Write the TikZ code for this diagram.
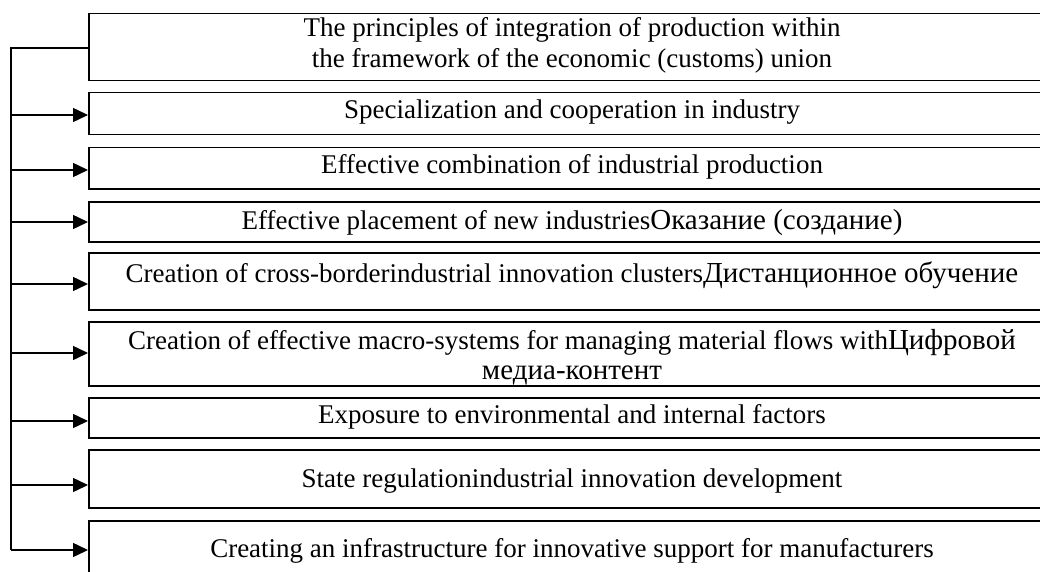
\documentclass[tikz,border=0pt]{standalone}
\usepackage{fontspec}
\setmainfont{Liberation Serif}
\usetikzlibrary{arrows.meta}
\newcommand\rutxt[1]{{\fontsize{29}{31}\selectfont #1}}
\begin{document}
\begin{tikzpicture}[x=1pt,y=-1pt,
  box/.style={draw, line width=1.5pt, rectangle, minimum width=968pt, anchor=north west, inner sep=0pt},
  txt/.style={font=\fontsize{27}{31}\selectfont, anchor=base, inner sep=0pt},
  conn/.style={line width=1.5pt},
  arr/.style={conn, -{Triangle[length=15pt,width=14pt]}}]
\useasboundingbox (0,0) rectangle (1040,572);
\clip (0,0) rectangle (1040,572);
% boxes
\node[box, minimum height=67pt] (b1) at (88,13) {};
\node[box, minimum height=42pt] (b2) at (88,92) {};
\node[box, minimum height=41pt] (b3) at (88,147) {};
\node[box, minimum height=40pt] (b4) at (88,201) {};
\node[box, minimum height=57pt] (b5) at (88,252) {};
\node[box, minimum height=64pt] (b6) at (88,321) {};
\node[box, minimum height=40pt] (b7) at (88,397) {};
\node[box, minimum height=58pt] (b8) at (88,449) {};
\node[box, minimum height=62pt] (b9) at (88,520) {};
% texts
\node[txt] (t1a) at (572,37) {The principles of integration of production within};
\node[txt] (t1b) at (572,68) {the framework of the economic (customs) union};
\node[txt] (t2) at (572,119) {Specialization and cooperation in industry};
\node[txt] (t3) at (572,173) {Effective combination of industrial production};
\node[txt] (t4) at (572,229) {Effective placement of new industries\rutxt{Оказание (создание)}};
\node[txt] (t5) at (572,282) {Creation of cross-borderindustrial innovation clusters\rutxt{Дистанционное обучение}};
\node[txt] (t6a) at (572,349) {Creation of effective macro-systems for managing material flows with\rutxt{Цифровой}};
\node[txt] (t6b) at (572,379) {\rutxt{медиа-контент}};
\node[txt] (t7) at (572,423) {Exposure to environmental and internal factors};
\node[txt] (t8) at (572,487) {State regulationindustrial innovation development};
\node[txt] (t9) at (572,557) {Creating an infrastructure for innovative support for manufacturers};
% connectors
\coordinate (top) at (11,48);
\coordinate (bot) at (11,550);
\draw[conn] (b1.west |- top) -- (top) -- (bot);
\foreach \i/\y in {2/115,3/170,4/222,5/284,6/353,7/421,8/485,9/550}{
  \coordinate (s\i) at (11,\y);
  \draw[arr] (s\i) -- (s\i -| b\i.west);
}
\end{tikzpicture}
\end{document}
